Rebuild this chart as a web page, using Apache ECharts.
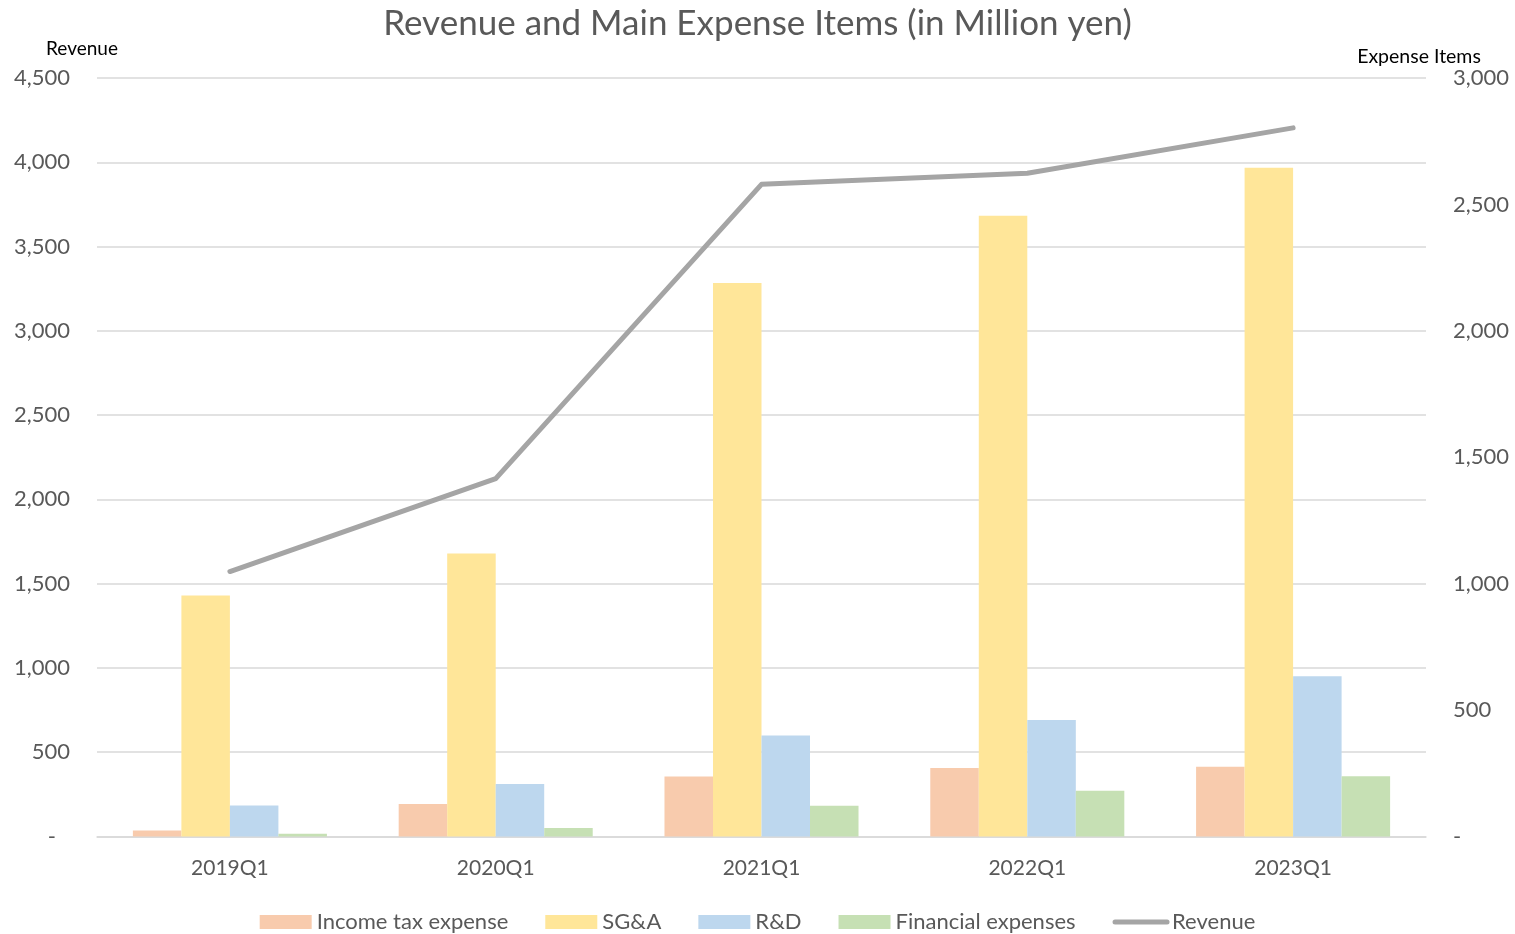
<!DOCTYPE html>
<html>
<head>
<meta charset="utf-8">
<script src="https://cdn.jsdelivr.net/npm/echarts@6/dist/echarts.min.js"></script>
<style>html,body{margin:0;padding:0;background:#fff;}#c{width:1515px;height:934px;}</style>
</head>
<body>
<div id="c"></div>
<script>
const categories = ['2019Q1', '2020Q1', '2021Q1', '2022Q1', '2023Q1'];
const incomeTax = [24, 129, 237, 271, 276];
const sga = [953, 1119, 2189, 2455, 2645];
const rnd = [123, 208, 399, 461, 634];
const financial = [11, 34, 122, 181, 238];
const revenue = [1572, 2123, 3869, 3935, 4204];
const leftTicks = { min: 0, max: 4500, interval: 500 };
const rightTicks = { min: 0, max: 3000, interval: 500 };

const FONT = 'Lato, "Open Sans", sans-serif';
const fmtLeft = v => v === 0 ? '{z|-}' : v.toLocaleString('en-US');
const fmtRight = v => v === 0 ? '-' : v.toLocaleString('en-US');

const chart = echarts.init(document.getElementById('c'));
chart.setOption({
  animation: false,
  backgroundColor: '#fff',
  textStyle: { fontFamily: FONT },
  title: {
    text: 'Revenue and Main Expense Items (in Million yen)',
    left: 'center', top: 1,
    textStyle: { fontSize: 35, fontWeight: 'normal', color: '#595959', fontFamily: FONT }
  },
  legend: {
    top: 906, left: 'center',
    itemWidth: 52, itemHeight: 14, itemGap: 37,
    textStyle: { fontSize: 22, color: '#595959', fontFamily: FONT },
    data: [
      { name: 'Income tax expense', icon: 'rect' },
      { name: 'SG&A', icon: 'rect' },
      { name: 'R&D', icon: 'rect' },
      { name: 'Financial expenses', icon: 'rect' },
      { name: 'Revenue', itemStyle: { opacity: 0 }, lineStyle: { width: 5, color: '#A5A5A5', cap: 'round' } }
    ]
  },
  grid: { left: 97, right: 89, top: 78, bottom: 97.5, containLabel: false },
  xAxis: {
    type: 'category', data: categories,
    axisLine: { lineStyle: { color: '#D9D9D9', width: 1.5 } },
    axisTick: { show: false },
    axisLabel: { fontSize: 21, color: '#595959', margin: 21, fontFamily: FONT }
  },
  yAxis: [
    {
      type: 'value', ...leftTicks,
      name: 'Revenue', nameLocation: 'end', nameGap: 20,
      nameTextStyle: { fontSize: 19, color: '#000', align: 'center', padding: [0, 30, 0, 0], fontFamily: FONT },
      axisLine: { show: false }, axisTick: { show: false },
      axisLabel: {
        fontSize: 22, color: '#595959', margin: 27, formatter: fmtLeft, fontFamily: FONT,
        rich: { z: { fontSize: 22, color: '#595959', fontFamily: FONT, padding: [0, 14, 0, 0] } }
      },
      splitLine: { lineStyle: { color: '#D9D9D9', width: 1.5 } }
    },
    {
      type: 'value', ...rightTicks,
      name: 'Expense Items', nameLocation: 'end', nameGap: 10,
      nameTextStyle: { fontSize: 19.5, color: '#000', align: 'center', padding: [0, 14, 0, 0], fontFamily: FONT },
      axisLine: { show: false }, axisTick: { show: false },
      axisLabel: { fontSize: 22, color: '#595959', margin: 27, formatter: fmtRight, fontFamily: FONT },
      splitLine: { show: false }
    }
  ],
  series: [
    { name: 'Income tax expense', type: 'bar', yAxisIndex: 1, data: incomeTax, itemStyle: { color: '#F8CBAD' }, barGap: '0%', barCategoryGap: '27%' },
    { name: 'SG&A', type: 'bar', yAxisIndex: 1, data: sga, itemStyle: { color: '#FFE699' } },
    { name: 'R&D', type: 'bar', yAxisIndex: 1, data: rnd, itemStyle: { color: '#BDD7EE' } },
    { name: 'Financial expenses', type: 'bar', yAxisIndex: 1, data: financial, itemStyle: { color: '#C6E0B4' } },
    { name: 'Revenue', type: 'line', yAxisIndex: 0, data: revenue, showSymbol: false, symbol: 'none',
      lineStyle: { color: '#A5A5A5', width: 5, cap: 'round', join: 'round' }, itemStyle: { color: '#A5A5A5' } }
  ]
});
</script>
</body>
</html>
